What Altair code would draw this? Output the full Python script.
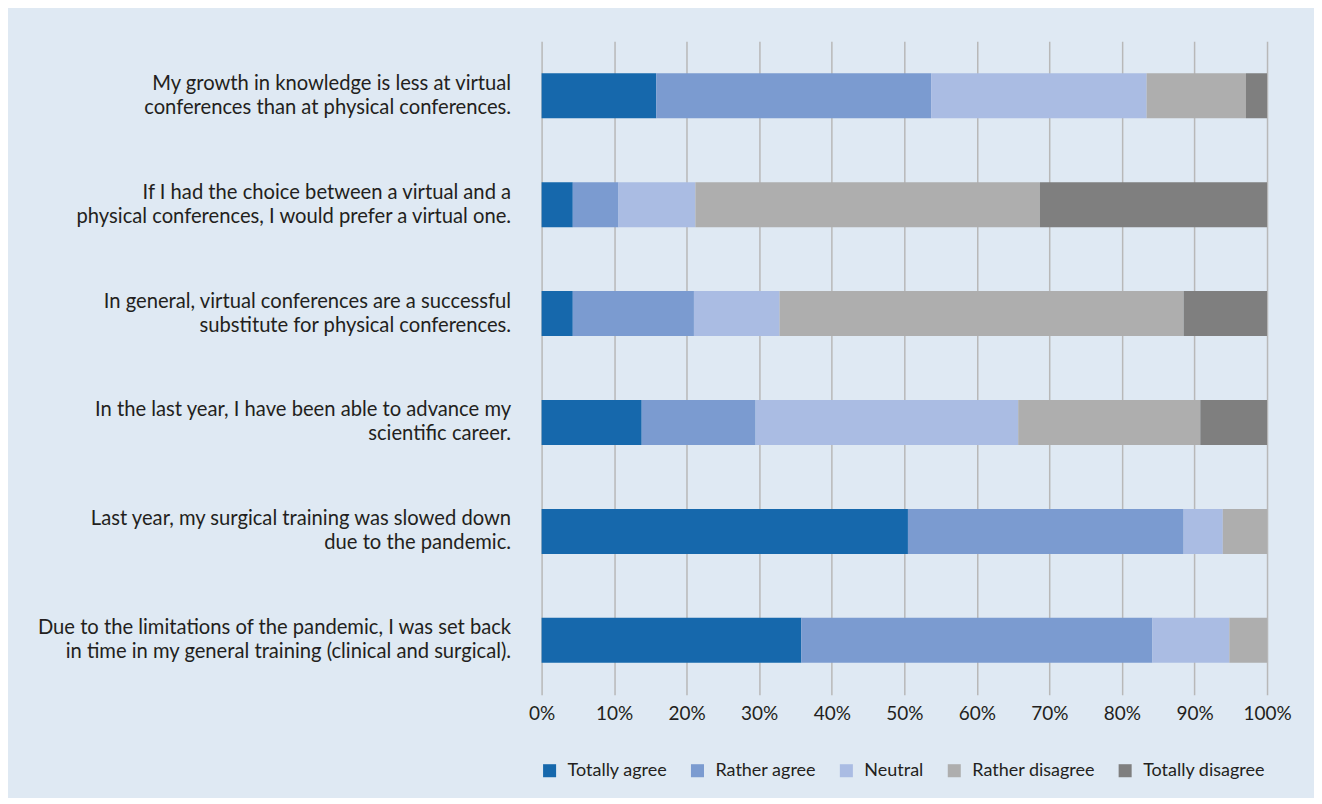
import altair as alt
import pandas as pd

statements = [
    "My growth in knowledge is less at virtual|conferences than at physical conferences.",
    "If I had the choice between a virtual and a|physical conferences, I would prefer a virtual one.",
    "In general, virtual conferences are a successful|substitute for physical conferences.",
    "In the last year, I have been able to advance my|scientific career.",
    "Last year, my surgical training was slowed down|due to the pandemic.",
    "Due to the limitations of the pandemic, I was set back|in time in my general training (clinical and surgical).",
]
categories = ["Totally agree", "Rather agree", "Neutral", "Rather disagree", "Totally disagree"]
colors = ["#1668AC", "#7B9BD0", "#AABCE3", "#AEAEAE", "#7F7F7F"]

totally_agree = [15.8, 4.3, 4.3, 13.8, 50.5, 35.8]
rather_agree = [37.9, 6.3, 16.7, 15.7, 38.0, 48.4]
neutral = [29.7, 10.6, 11.8, 36.2, 5.4, 10.6]
rather_disagree = [13.7, 47.5, 55.7, 25.1, 6.1, 5.2]
totally_disagree = [2.9, 31.3, 11.5, 9.2, 0.0, 0.0]

series = [totally_agree, rather_agree, neutral, rather_disagree, totally_disagree]
rows = []
for k, (cat, vals) in enumerate(zip(categories, series)):
    for s, v in zip(statements, vals):
        rows.append({"statement": s, "response": cat, "value": v / 100.0, "k": k})
df = pd.DataFrame(rows)

FONT = "Lato"

chart = alt.Chart(df).mark_bar(size=45).encode(
    y=alt.Y("statement:N", sort=statements, title=None,
            scale=alt.Scale(paddingInner=0, paddingOuter=0),
            axis=alt.Axis(labelExpr="split(datum.label, '|')", labelFontSize=20.2,
                          labelLineHeight=24, labelPadding=31, labelLimit=0,
                          labelOffset=-12,
                          labelColor="#231F20", labelFont=FONT, domain=False,
                          ticks=False, grid=False)),
    x=alt.X("value:Q", stack="zero", title=None,
            scale=alt.Scale(domain=[0, 1], nice=False),
            axis=alt.Axis(format=".0%", values=[i / 10 for i in range(11)],
                          labelFontSize=19, labelColor="#231F20", labelFont=FONT,
                          labelPadding=10, labelFlush=False, domain=False, ticks=False,
                          grid=True, gridColor="#B8B8B8", gridWidth=1.5)),
    color=alt.Color("response:N", sort=categories,
                    scale=alt.Scale(domain=categories, range=colors),
                    legend=alt.Legend(title=None, orient="none", direction="horizontal",
                                      legendX=-1, legendY=721, symbolType="square",
                                      symbolSize=170, symbolStrokeWidth=0,
                                      labelFontSize=18, labelFont=FONT,
                                      labelColor="#231F20", columnPadding=21,
                                      labelOffset=9, padding=0)),
    order=alt.Order("k:Q", sort="ascending"),
).properties(
    width=726, height=654,
    autosize=alt.AutoSizeParams(type="none"),
    padding={"left": 534, "top": 33, "right": 47, "bottom": 103},
    background="#DFE9F3",
).configure_view(stroke=None)

chart.save("out.html", embed_options={"renderer": "svg", "actions": False})
